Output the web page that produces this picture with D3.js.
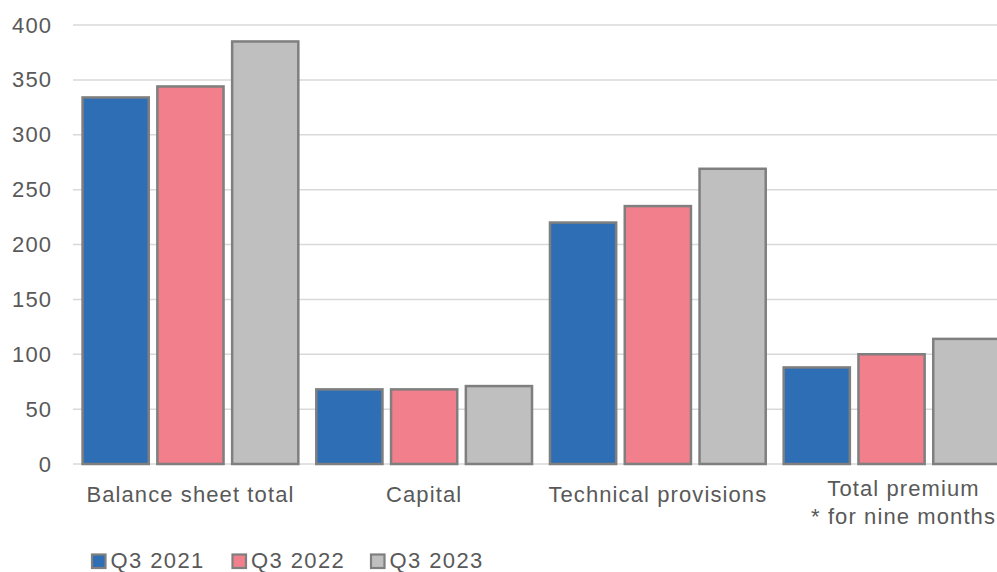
<!DOCTYPE html>
<html>
<head>
<meta charset="utf-8">
<script src="https://cdn.jsdelivr.net/npm/d3@7/dist/d3.min.js"></script>
<style>
  html, body { margin: 0; padding: 0; background: #fff; }
  svg { display: block; font-family: "Liberation Sans", Arial, sans-serif; }
</style>
</head>
<body>
<svg id="chart" width="997" height="572"></svg>
<script>
const categories = ["Balance sheet total", "Capital", "Technical provisions", "Total premium\n* for nine months"];
const seriesNames = ["Q3 2021", "Q3 2022", "Q3 2023"];
const q3_2021 = [334, 68, 220, 88];
const q3_2022 = [344, 68, 235, 100];
const q3_2023 = [385, 71, 269, 114];
const yTicks = [0, 50, 100, 150, 200, 250, 300, 350, 400];
const colors = ["#2E6EB5", "#F17F8C", "#BFBFBF"];

const seriesValues = [q3_2021, q3_2022, q3_2023];
const svg = d3.select("#chart");
const W = 997;
const plotLeft = 73;
const bandStep = 233.7;
const textColor = "#595959";
const fontSize = 22;
const spacing = 1.1;

// the category axis runs a little past the right edge, so the last bar is clipped
const x0 = d3.scaleBand().domain(categories)
  .range([plotLeft + 0.6, plotLeft + 0.6 + bandStep * categories.length]);
const x1 = d3.scaleBand().domain(seriesNames).range([0, x0.bandwidth()])
  .paddingInner(0.115).paddingOuter(0.12);
const y = d3.scaleLinear().domain([0, 400]).range([464, 25]);

// gridlines
svg.append("g").selectAll("line").data(yTicks).join("line")
  .attr("x1", plotLeft).attr("x2", W)
  .attr("y1", d => y(d)).attr("y2", d => y(d))
  .attr("stroke", "#D9D9D9").attr("stroke-width", 1.5);

// value axis labels
const yAxis = d3.axisLeft(y).tickValues(yTicks).tickSize(0).tickPadding(0);
const ga = svg.append("g").attr("transform", `translate(${51 + spacing},0)`).call(yAxis);
ga.select(".domain").remove();
ga.selectAll("text").attr("font-size", fontSize).attr("fill", textColor)
  .attr("letter-spacing", spacing)
  .attr("font-family", "Liberation Sans, Arial, sans-serif");

// bars
const groups = svg.append("g").selectAll("g").data(categories).join("g")
  .attr("transform", d => `translate(${x0(d)},0)`);
groups.selectAll("rect").data((c, i) => seriesNames.map((s, j) => ({ s, j, v: seriesValues[j][i] })))
  .join("rect")
  .attr("x", d => x1(d.s))
  .attr("width", x1.bandwidth())
  .attr("y", d => y(d.v))
  .attr("height", d => y(0) - y(d.v))
  .attr("fill", d => colors[d.j])
  .attr("stroke", "#7F7F7F").attr("stroke-width", 2.5);

// category labels (two-line labels sit a little higher and are nudged inward)
const labelShift = [0, 0, 0, 12];
const cl = svg.append("g").selectAll("text").data(categories).join("text")
  .attr("text-anchor", "middle")
  .attr("font-size", fontSize).attr("fill", textColor)
  .attr("letter-spacing", spacing);
cl.each(function (d, i) {
  const lines = d.split("\n");
  const cx = x0(d) + x0.bandwidth() / 2 + labelShift[i];
  const top = lines.length > 1 ? 495.5 : 501.5;
  d3.select(this).selectAll("tspan").data(lines).join("tspan")
    .attr("x", cx)
    .attr("y", (l, k) => top + k * 28.6)
    .text(l => l);
});

// legend
const legendX = [92, 232.5, 371];
const lg = svg.append("g").selectAll("g").data(seriesNames).join("g")
  .attr("transform", (d, i) => `translate(${legendX[i]},554.5)`);
lg.append("rect").attr("x", 0).attr("y", 0).attr("width", 13.5).attr("height", 13.5)
  .attr("fill", (d, i) => colors[i]).attr("stroke", "#7F7F7F").attr("stroke-width", 2.2);
lg.append("text").attr("x", 18.5).attr("y", 13.5).attr("font-size", fontSize).attr("fill", textColor)
  .attr("letter-spacing", 1.4)
  .text(d => d);
</script>
</body>
</html>
